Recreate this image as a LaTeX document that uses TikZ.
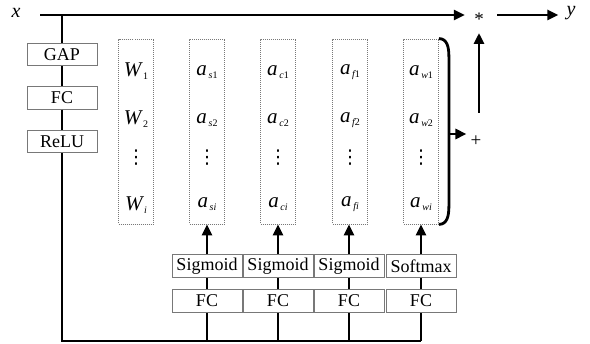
\documentclass[tikz,border=0pt]{standalone}
\usepackage{fontspec}
\setmainfont{Liberation Serif}
\newfontfamily\symfont{DejaVu Sans}
\usetikzlibrary{arrows.meta}
\definecolor{boxgray}{RGB}{120,120,120}
% entry of an attention vector: big italic letter with a lowered subscript
\newcommand\vent[2]{{\fontsize{21}{21}\selectfont\itshape #1}\,\raisebox{-2.5pt}{\fontsize{10}{10}\selectfont #2}}
% vertical ellipsis as a single glyph
\newcommand\vdts{{\symfont\fontsize{19}{19}\selectfont ⋮}}
\begin{document}
\begin{tikzpicture}[x=1pt,y=-1pt,
  wire/.style={line width=2.8pt},
  arr/.style={wire,-{Triangle[length=11pt,width=10pt]}},
  opbox/.style={draw=boxgray,line width=1pt,fill=white,minimum width=70pt,
    minimum height=22.5pt,inner sep=0pt,font=\fontsize{18}{20}\selectfont},
  vecbox/.style={draw=boxgray,line width=0.8pt,dash pattern=on 1pt off 1pt,
    minimum width=35pt,minimum height=185pt,inner sep=0pt},
  entry/.style={inner sep=0pt},
  lab/.style={inner sep=0pt,font=\fontsize{20}{20}\selectfont\itshape},
]
\useasboundingbox (0,0) rectangle (590,344);

% input, output and the combining operators
\node[lab] (xlab) at (16,13) {x};
\node[lab] (ylab) at (571,13) {y};
\coordinate (xin) at (40,15);
\coordinate (split) at (62,15);
\node[inner sep=0pt,minimum width=28pt,minimum height=12pt,font=\fontsize{19}{19}\selectfont] (mul) at (479,19) {*};
\node[inner sep=0pt,font=\fontsize{19}{19}\selectfont] (plus) at (476,141) {+};

% squeeze branch on the left
\node[opbox] (gap) at (62,54.5) {GAP};
\node[opbox] (fcl) at (62,98) {FC};
\node[opbox] (relu) at (62,141.5) {ReLU};
\coordinate (corner) at (62,341);

% vector columns
\node[vecbox] (colW) at (136,131.5) {};
\node[vecbox] (colS) at (207,131.5) {};
\node[vecbox] (colC) at (278,131.5) {};
\node[vecbox] (colF) at (350,131.5) {};
\node[vecbox] (colA) at (421,131.5) {};

\foreach \c/\r/\t in {colW/71/{\vent{W}{1}}, colW/119/{\vent{W}{2}}, colW/158/{\vdts}, colW/205/{\vent{W}{\itshape i}},
  colS/72/{\vent{a}{\itshape s\upshape 1}}, colS/120/{\vent{a}{\itshape s\upshape 2}}, colS/158/{\vdts}, colS/204/{\vent{a}{\itshape si}},
  colC/72/{\vent{a}{\itshape c\upshape 1}}, colC/120/{\vent{a}{\itshape c\upshape 2}}, colC/158/{\vdts}, colC/204/{\vent{a}{\itshape ci}},
  colF/72/{\vent{a}{\itshape f\upshape 1}}, colF/120/{\vent{a}{\itshape f\upshape 2}}, colF/158/{\vdts}, colF/204/{\vent{a}{\itshape fi}},
  colA/72/{\vent{a}{\itshape w\upshape 1}}, colA/120/{\vent{a}{\itshape w\upshape 2}}, colA/158/{\vdts}, colA/204/{\vent{a}{\itshape wi}}}
  \node[entry] at (\c |- 0,\r) {\t};

% excitation heads under the columns
\node[opbox] (sigS) at (207,266) {Sigmoid};
\node[opbox] (sigC) at (278,266) {Sigmoid};
\node[opbox] (sigF) at (349,266) {Sigmoid};
\node[opbox] (smax) at (421,266) {Softmax};
\node[opbox] (fcS) at (207,301) {FC};
\node[opbox] (fcC) at (278,301) {FC};
\node[opbox] (fcF) at (349,301) {FC};
\node[opbox] (fcA) at (421,301) {FC};

% main path
\draw[arr] (xin) -- (xin -| mul.west);
\draw[arr,shorten <=4pt,shorten >=8pt] (mul.east |- xin) -- (ylab.west |- xin);
\draw[wire] (split) -- (gap) -- (fcl) -- (relu) -- (corner) -- (corner -| fcA);
\foreach \f/\s/\c in {fcS/sigS/colS, fcC/sigC/colC, fcF/sigF/colF, fcA/smax/colA}{
  \draw[wire] (corner -| \f) -- (\f);
  \draw[wire] (\f) -- (\s);
  \draw[arr] (\s) -- (\c.south -| \s);
}

% sum over the last column and weighting of x
\coordinate (brtop) at (colA.north east);
\coordinate (brbot) at (colA.south east);
\coordinate (brmid) at (448,134);
\draw[wire] (brtop) .. controls ++(8,0) and ++(0,-10) .. ++(10,18)
  -- ([xshift=10pt,yshift=18pt]brbot) .. controls ++(0,10) and ++(8,0) .. (brbot);
\draw[arr,shorten >=4pt] (brmid) -- (brmid -| plus.west);
\draw[arr,shorten <=28pt] (mul |- plus) -- (mul |- 0,33);
\end{tikzpicture}
\end{document}
